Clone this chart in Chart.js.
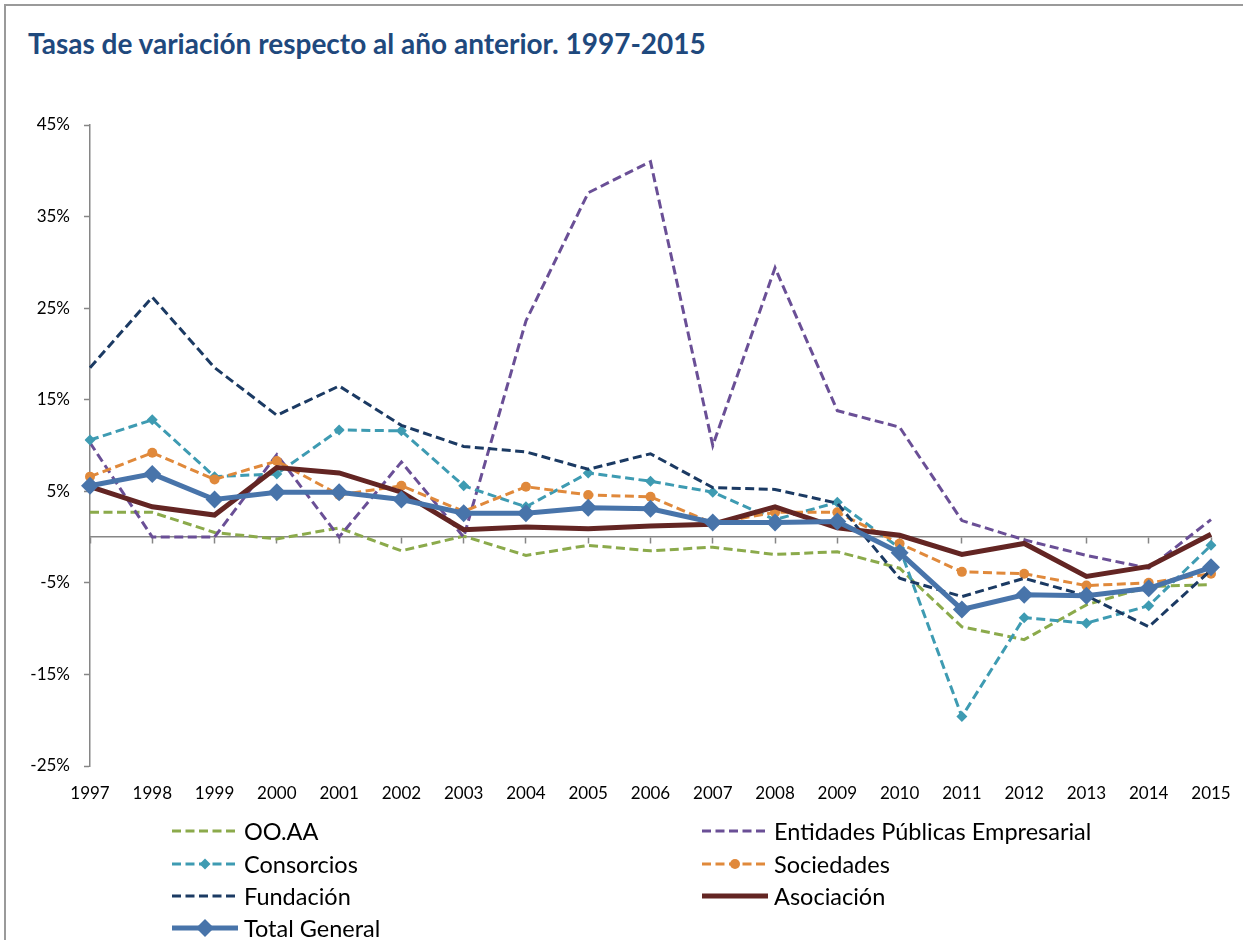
<!DOCTYPE html>
<html>
<head>
<meta charset="utf-8">
<script src="https://cdn.jsdelivr.net/npm/chart.js@4/dist/chart.umd.min.js"></script>
<style>
  html, body { margin: 0; padding: 0; background: #fff; }
  #wrap { position: relative; width: 1243px; height: 940px; overflow: hidden; background: #fff; }
  #frameTop { position: absolute; left: 4px; top: 4px; width: 1239px; height: 2px; background: #9a9a9a; }
  #frameLeft { position: absolute; left: 4px; top: 4px; width: 2px; height: 936px; background: #9a9a9a; }
  #title { position: absolute; left: 28px; top: 26px; font-family: Lato, "Noto Sans", sans-serif; font-weight: bold; font-size: 28px; color: #1F497D; white-space: nowrap; }
  #chart { position: absolute; left: 0; top: 0; }
  #legend { position: absolute; left: 0; top: 0; width: 1243px; height: 940px; pointer-events: none; font-family: Lato, "Noto Sans", sans-serif; font-size: 23.5px; color: #000; }
  .item { position: absolute; height: 30px; display: flex; align-items: center; white-space: nowrap; }
  .item svg { margin-right: 6px; }
</style>
</head>
<body>
<div id="wrap">
  <div id="frameTop"></div>
  <div id="frameLeft"></div>
  <div id="title">Tasas de variación respecto al año anterior. 1997-2015</div>
  <canvas id="chart" width="1243" height="940"></canvas>
  <div id="legend"></div>
</div>
<script>
const years = ['1997','1998','1999','2000','2001','2002','2003','2004','2005','2006','2007','2008','2009','2010','2011','2012','2013','2014','2015'];

const ooaa       = [2.7, 2.7, 0.5, -0.2, 1.0, -1.5, 0.1, -2.0, -0.9, -1.5, -1.1, -1.9, -1.6, -3.4, -9.8, -11.2, -7.4, -5.4, -5.2];
const entidades  = [10.3, 0, 0, 9.0, 0, 8.2, 0, 23.6, 37.6, 41.0, 10.0, 29.4, 13.8, 12.0, 1.8, -0.3, -2.0, -3.4, 1.9];
const consorcios = [10.6, 12.8, 6.6, 6.9, 11.7, 11.6, 5.6, 3.3, 7.0, 6.1, 4.9, 1.9, 3.8, -1.2, -19.6, -8.8, -9.4, -7.5, -0.9];
const sociedades = [6.6, 9.2, 6.3, 8.3, 4.6, 5.6, 2.8, 5.5, 4.6, 4.4, 1.5, 2.7, 2.7, -0.7, -3.8, -4.0, -5.3, -5.0, -4.0];
const fundacion  = [18.5, 26.2, 18.5, 13.3, 16.5, 12.2, 9.9, 9.3, 7.4, 9.1, 5.4, 5.2, 3.7, -4.5, -6.5, -4.5, -6.4, -9.8, -3.6];
const asociacion = [5.5, 3.3, 2.4, 7.6, 7.0, 4.9, 0.8, 1.1, 0.9, 1.2, 1.4, 3.3, 1.0, 0.2, -1.9, -0.7, -4.3, -3.2, 0.3];
const total      = [5.6, 6.9, 4.1, 4.9, 4.9, 4.1, 2.6, 2.6, 3.2, 3.1, 1.6, 1.6, 1.7, -1.7, -7.9, -6.3, -6.4, -5.6, -3.3];

const yTicks = [-25, -15, -5, 5, 15, 25, 35, 45];

const DASH = [9, 4.5];
const GRAY = '#868686';

const datasets = [
  { label: 'OO.AA', data: ooaa, borderColor: '#8BAA4B', backgroundColor: '#8BAA4B', borderWidth: 3, borderDash: DASH, pointRadius: 0, order: 6, marker: null },
  { label: 'Entidades Públicas Empresarial', data: entidades, borderColor: '#6A4F96', backgroundColor: '#6A4F96', borderWidth: 3, borderDash: DASH, pointRadius: 0, order: 5, marker: null },
  { label: 'Consorcios', data: consorcios, borderColor: '#3E9BB2', backgroundColor: '#3E9BB2', borderWidth: 3, borderDash: DASH, pointRadius: 5.5, pointStyle: 'rectRot', pointBorderWidth: 0, order: 4, marker: 'diamond' },
  { label: 'Sociedades', data: sociedades, borderColor: '#E0893B', backgroundColor: '#E0893B', borderWidth: 3, borderDash: DASH, pointRadius: 5, pointStyle: 'circle', pointBorderWidth: 0, order: 3, marker: 'circle' },
  { label: 'Fundación', data: fundacion, borderColor: '#1B3A63', backgroundColor: '#1B3A63', borderWidth: 3, borderDash: DASH, pointRadius: 0, order: 2, marker: null },
  { label: 'Asociación', data: asociacion, borderColor: '#632523', backgroundColor: '#632523', borderWidth: 5, pointRadius: 0, order: 1, marker: null },
  { label: 'Total General', data: total, borderColor: '#4874AA', backgroundColor: '#4874AA', borderWidth: 5, pointRadius: 9, pointStyle: 'rectRot', pointBorderWidth: 0, order: 0, marker: 'bigdiamond' }
];

const chart = new Chart(document.getElementById('chart'), {
  type: 'line',
  data: {
    labels: years,
    datasets: datasets.map(d => Object.assign({ fill: false, tension: 0, borderCapStyle: 'butt', borderJoinStyle: 'miter', pointHoverRadius: 0 }, d))
  },
  options: {
    responsive: false,
    animation: false,
    events: [],
    layout: { padding: { top: 125, right: 32, bottom: 0, left: 0 } },
    plugins: { legend: { display: false }, title: { display: false }, tooltip: { enabled: false } },
    scales: {
      y: {
        min: -25, max: 45,
        afterBuildTicks: s => { s.ticks = yTicks.map(v => ({ value: v })); },
        afterFit: s => { s.width = 90; },
        ticks: { callback: v => v + '%', color: '#000', font: { family: 'Lato, "Noto Sans", sans-serif', size: 17 }, padding: 14 },
        grid: { drawOnChartArea: false, drawTicks: true, tickLength: 6, color: GRAY, tickWidth: 1.5 },
        border: { display: true, color: GRAY, width: 1.5 }
      },
      x: {
        type: 'category',
        position: { y: 0 },
        offset: false,
        afterFit: s => { s.paddingLeft = 0; s.paddingRight = 0; },
        ticks: { display: false },
        grid: { drawOnChartArea: false, drawTicks: true, tickLength: 6, color: GRAY, tickWidth: 1.5 },
        border: { display: true, color: GRAY, width: 1.5 }
      },
      x2: {
        type: 'category',
        labels: years,
        position: 'bottom',
        offset: false,
        afterFit: s => { s.height = 174; s.paddingLeft = 0; s.paddingRight = 0; },
        ticks: { color: '#000', font: { family: 'Lato, "Noto Sans", sans-serif', size: 17 }, padding: 17, maxRotation: 0, autoSkip: false },
        grid: { display: false, drawTicks: false },
        border: { display: false }
      }
    }
  }
});

// HTML legend built from the chart datasets
function sample(d) {
  const w = 66, h = 20, cy = 10;
  const dash = d.borderDash ? `stroke-dasharray="${d.borderDash.join(' ')}"` : '';
  let s = `<svg width="${w}" height="${h}" viewBox="0 0 ${w} ${h}"><line x1="0" y1="${cy}" x2="${w}" y2="${cy}" stroke="${d.borderColor}" stroke-width="${d.borderWidth}" ${dash} stroke-linecap="${d.borderDash ? 'butt' : 'round'}"/>`;
  if (d.marker === 'diamond') s += `<polygon points="${w/2-5.5},${cy} ${w/2},${cy-5.5} ${w/2+5.5},${cy} ${w/2},${cy+5.5}" fill="${d.borderColor}"/>`;
  if (d.marker === 'circle') s += `<circle cx="${w/2}" cy="${cy}" r="5" fill="${d.borderColor}"/>`;
  if (d.marker === 'bigdiamond') s += `<polygon points="${w/2-9},${cy} ${w/2},${cy-9} ${w/2+9},${cy} ${w/2},${cy+9}" fill="${d.borderColor}"/>`;
  return s + '</svg>';
}
const legend = document.getElementById('legend');
const colX = [172, 702];
const rowY = [816, 849, 881, 913];
datasets.forEach((d, i) => {
  const el = document.createElement('div');
  el.className = 'item';
  el.style.left = colX[i % 2] + 'px';
  el.style.top = rowY[Math.floor(i / 2)] + 'px';
  el.innerHTML = sample(d) + '<span>' + d.label + '</span>';
  legend.appendChild(el);
});
</script>
</body>
</html>
